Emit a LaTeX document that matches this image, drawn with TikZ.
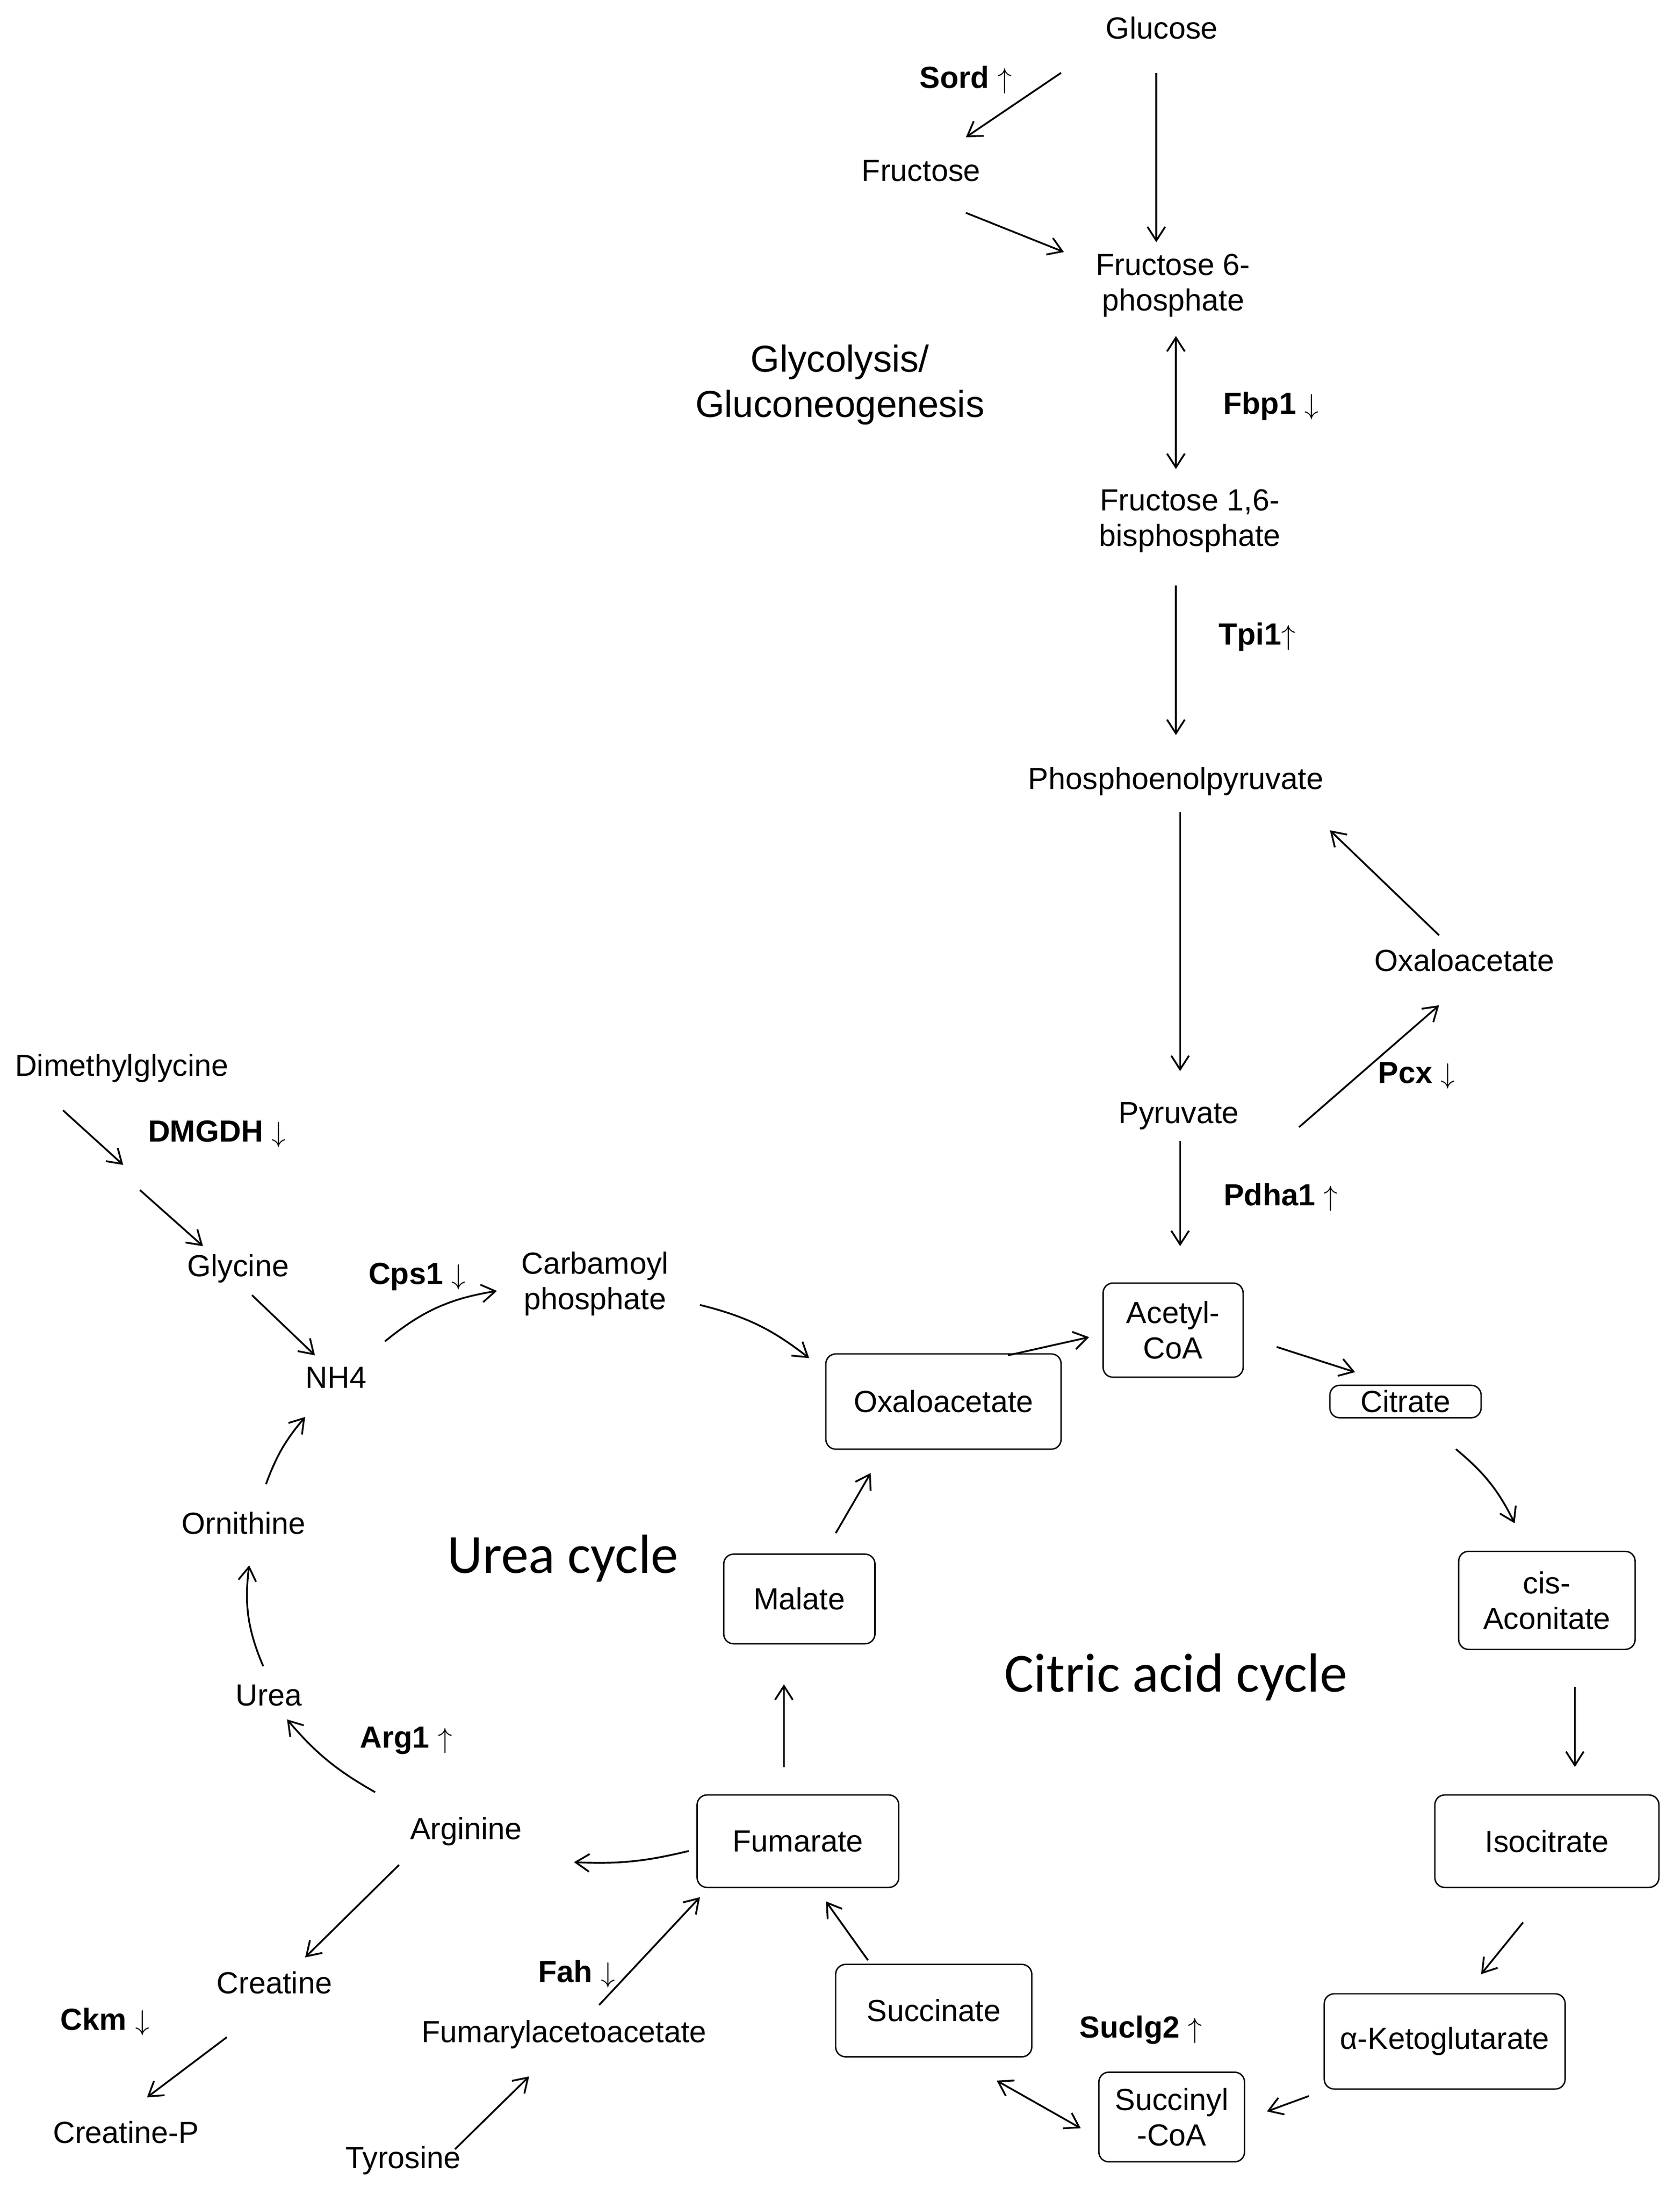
\documentclass[tikz,border=0pt]{standalone}
\usepackage{fontspec}
\setmainfont{Liberation Sans}
\newfontfamily\calib{Carlito}
\usetikzlibrary{arrows.meta}

\begin{document}
\begin{tikzpicture}[x=0.025cm, y=-0.025cm, line width=0.9pt,
  met/.style={font=\fontsize{15.5}{18}\selectfont, align=center, inner sep=2pt},
  enz/.style={font=\fontsize{15.5}{18}\selectfont\bfseries, inner sep=1pt},
  box/.style={met, draw, rounded corners=5pt, line width=0.7pt},
  title/.style={font=\calib\fontsize{#1}{#1}\selectfont, align=center},
  rx/.style={-{Straight Barb[length=7pt,width=9pt]}},
  rxx/.style={{Straight Barb[length=7pt,width=9pt]}-{Straight Barb[length=7pt,width=9pt]}}]
\useasboundingbox (0,0) rectangle (1200,1572);

% glycolysis
\node[met] (glc) at (830,20) {Glucose};
\node[met] (fru) at (658,122) {Fructose};
\node[met] (f6p) at (838,204) {Fructose 6-\\phosphate};
\node[font=\fontsize{19}{23}\selectfont, align=center] (gly) at (600,275) {Glycolysis/\\Gluconeogenesis};
\node[met] (fbp) at (850,372) {Fructose 1,6-\\bisphosphate};
\node[met] (pep) at (840,558) {Phosphoenolpyruvate};
\node[met] (oaa1) at (1046,686) {Oxaloacetate};
\node[met] (pyr) at (842,797) {Pyruvate};
\node[enz] at (690,57) {Sord $\uparrow$};
\node[enz] at (908,290) {Fbp1 $\downarrow$};
\node[enz] at (898,455) {Tpi1$\uparrow$};
\node[enz] at (1012,768) {Pcx $\downarrow$};
\node[enz] at (915,855) {Pdha1 $\uparrow$};

% citric acid cycle
\node[box, minimum width=2.5cm, minimum height=1.68cm] (acoa) at (838,950) {Acetyl-\\CoA};
\node[box, minimum width=4.2cm, minimum height=1.7cm] (oaa) at (674,1001) {Oxaloacetate};
\node[box, minimum width=2.7cm, minimum height=0.58cm, inner sep=0pt] (cit) at (1004,1001) {Citrate};
\node[box, minimum width=2.7cm, minimum height=1.6cm] (mal) at (571,1142) {Malate};
\node[box, minimum width=3.15cm, minimum height=1.75cm] (cis) at (1105,1143) {cis-\\Aconitate};
\node[box, minimum width=3.6cm, minimum height=1.65cm] (fum) at (570,1315) {Fumarate};
\node[box, minimum width=4cm, minimum height=1.65cm] (iso) at (1105,1315) {Isocitrate};
\node[box, minimum width=3.5cm, minimum height=1.65cm] (suc) at (667,1436) {Succinate};
\node[box, minimum width=4.3cm, minimum height=1.7cm] (akg) at (1032,1458) {α-Ketoglutarate};
\node[box, minimum width=2.6cm, minimum height=1.6cm] (scoa) at (837,1512) {Succinyl\\-CoA};
\node[title=28] at (840,1198) {Citric acid cycle};
\node[enz] at (815,1450) {Suclg2 $\uparrow$};

% urea cycle
\node[met] (dmg) at (87,763) {Dimethylglycine};
\node[met] (gly2) at (170,906) {Glycine};
\node[met] (carb) at (425,917) {Carbamoyl\\phosphate};
\node[met] (nh4) at (240,984) {NH4};
\node[met] (orn) at (174,1088) {Ornithine};
\node[met] (urea) at (192,1211) {Urea};
\node[met] (arg) at (333,1308) {Arginine};
\node[met] (cre) at (196,1416) {Creatine};
\node[met] (faa) at (403,1453) {Fumarylacetoacetate};
\node[met] (crp) at (90,1523) {Creatine-P};
\node[met] (tyr) at (288,1543) {Tyrosine};
\node[title=28] at (402,1113) {Urea cycle};
\node[enz] at (155,810) {DMGDH $\downarrow$};
\node[enz] at (298,912) {Cps1 $\downarrow$};
\node[enz] at (290,1243) {Arg1 $\uparrow$};
\node[enz] at (412,1410) {Fah $\downarrow$};
\node[enz] at (75,1444) {Ckm $\downarrow$};

% arrow ends
\foreach \n/\x/\y in {a1/758/52, a2/690/98, b1/826/52, b2/826/173, c1/690/152, c2/760/180,
  d1/840/240, d2/840/335, e1/840/418, e2/840/525, f1/843/580, f2/843/765,
  g1/928/805, g2/1028/718, h1/1028/668, h2/950/593, i1/843/815, i2/843/890,
  j1/45/793, j2/88/832, k1/100/850, k2/145/890, l1/180/925, l2/225/968,
  m1/275/958, m2/355/922, n1/500/932, n2/578/970, o1/720/968, o2/778/955,
  p1/912/962, p2/968/980, q1/1040/1035, q2/1082/1088, r1/1125/1205, r2/1125/1262,
  s1/1088/1373, s2/1058/1410, t1/935/1497, t2/905/1508, u1/772/1520, u2/712/1486,
  v1/620/1400, v2/590/1358, w1/560/1262, w2/560/1203, x1/597/1095, x2/622/1052,
  y1/492/1322, y2/410/1330, z1/268/1280, z2/205/1228, A1/188/1190, A2/178/1118,
  B1/190/1060, B2/218/1012, C1/285/1332, C2/218/1398, D1/162/1455, D2/105/1498,
  E1/325/1535, E2/378/1483, F1/428/1432, F2/500/1355}
  \coordinate (\n) at (\x,\y);

% reactions
\draw[rx] (a1) -- (a2);
\draw[rx] (b1) -- (b2);
\draw[rx] (c1) -- (c2);
\draw[rxx] (d1) -- (d2);
\draw[rx] (e1) -- (e2);
\draw[rx] (f1) -- (f2);
\draw[rx] (g1) -- (g2);
\draw[rx] (h1) -- (h2);
\draw[rx] (i1) -- (i2);
\draw[rx] (j1) -- (j2);
\draw[rx] (k1) -- (k2);
\draw[rx] (l1) -- (l2);
\draw[rx] (m1) to[bend left=15] (m2);
\draw[rx] (n1) to[bend left=12] (n2);
\draw[rx] (o1) -- (o2);
\draw[rx] (p1) -- (p2);
\draw[rx] (q1) to[bend left=12] (q2);
\draw[rx] (r1) -- (r2);
\draw[rx] (s1) -- (s2);
\draw[rx] (t1) -- (t2);
\draw[rxx] (u1) -- (u2);
\draw[rx] (v1) -- (v2);
\draw[rx] (w1) -- (w2);
\draw[rx] (x1) -- (x2);
\draw[rx] (y1) to[bend left=8] (y2);
\draw[rx] (z1) to[bend left=10] (z2);
\draw[rx] (A1) to[bend left=15] (A2);
\draw[rx] (B1) to[bend left=10] (B2);
\draw[rx] (C1) -- (C2);
\draw[rx] (D1) -- (D2);
\draw[rx] (E1) -- (E2);
\draw[rx] (F1) -- (F2);
\end{tikzpicture}
\end{document}
